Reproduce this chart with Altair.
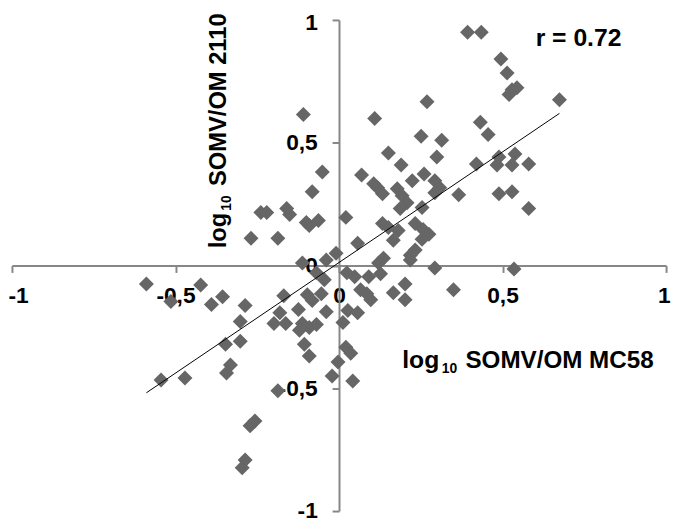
import altair as alt
import pandas as pd

# log10 SOMV/OM MC58 (x) vs log10 SOMV/OM 2110 (y)
x_mc58 = [
    -0.109, -0.051, -0.082, -0.239, -0.221, -0.160, -0.151, -0.100, -0.091, -0.063,
    -0.269, -0.187, -0.039, -0.009, -0.112,
    0.393, 0.435, 0.495, 0.514, 0.520, 0.529, 0.544, 0.674, 0.269, 0.109,
    0.432, 0.456, 0.251, 0.314, 0.151, 0.190, 0.299, 0.420, 0.489, 0.538,
    0.483, 0.529, 0.580, 0.069, 0.106, 0.118, 0.133, 0.224, 0.260, 0.178,
    0.193, 0.208, 0.187, 0.293, 0.308, 0.293, 0.366, 0.254, 0.489, 0.529,
    0.580, 0.021, 0.133, 0.151, 0.181, 0.233, 0.257, 0.275, 0.254, 0.166,
    0.057, 0.233, 0.218, 0.136, 0.121, 0.218,
    0.293, 0.535, 0.024, 0.048, 0.091, 0.127, 0.066, 0.085, 0.097, 0.166,
    0.202, 0.202, 0.350, 0.027, 0.057, 0.012, 0.021, 0.036, -0.003, 0.042,
    -0.589, -0.514, -0.423, -0.390, -0.356, -0.287, -0.302, -0.169, -0.181, -0.199,
    -0.163, -0.124, -0.097, -0.082, -0.054, -0.039, -0.112, -0.091, -0.121, -0.069,
    -0.106, -0.091, -0.347, -0.302, -0.332, -0.344, -0.544, -0.471, -0.187, -0.272,
    -0.257, -0.287, -0.296, -0.021, -0.069, -0.045,
]
y_2110 = [
    0.615, 0.381, 0.300, 0.216, 0.216, 0.232, 0.208, 0.175, 0.163, 0.183,
    0.111, 0.111, 0.022, 0.050, 0.010,
    0.950, 0.950, 0.841, 0.784, 0.696, 0.716, 0.724, 0.675, 0.667, 0.599,
    0.583, 0.534, 0.526, 0.510, 0.458, 0.409, 0.442, 0.413, 0.442, 0.454,
    0.409, 0.409, 0.413, 0.369, 0.333, 0.317, 0.292, 0.345, 0.373, 0.313,
    0.284, 0.256, 0.232, 0.345, 0.317, 0.296, 0.288, 0.236, 0.292, 0.300,
    0.232, 0.196, 0.171, 0.155, 0.143, 0.171, 0.147, 0.127, 0.107, 0.103,
    0.091, 0.063, 0.042, 0.030, 0.010, 0.022,
    -0.010, -0.014, -0.030, -0.046, -0.046, -0.034, -0.099, -0.115, -0.139, -0.111,
    -0.075, -0.139, -0.099, -0.183, -0.192, -0.232, -0.333, -0.357, -0.393, -0.470,
    -0.075, -0.147, -0.079, -0.159, -0.127, -0.163, -0.228, -0.123, -0.192, -0.236,
    -0.236, -0.179, -0.119, -0.143, -0.115, -0.188, -0.236, -0.252, -0.264, -0.240,
    -0.321, -0.369, -0.321, -0.308, -0.405, -0.438, -0.466, -0.458, -0.510, -0.653,
    -0.633, -0.792, -0.824, -0.450, -0.030, -0.058,
]
tick_values = [-1, -0.5, 0, 0.5, 1]
r_label = "r = 0.72"
x_title_parts = ["log", "10", "SOMV/OM MC58"]
y_title_parts = ["log", "10", "SOMV/OM 2110"]

df = pd.DataFrame({"x": x_mc58, "y": y_2110})

W, H = 662, 497
FONT = "Liberation Sans"
AXIS_GRAY = "#878787"
MARK_GRAY = "#666666"
label_expr = "datum.value == 0 ? '0' : replace(toString(datum.value), '.', ',')"

xscale = alt.Scale(domain=[-1, 1], nice=False, zero=False)
yscale = alt.Scale(domain=[-1, 1], nice=False, zero=False)

common_axis = dict(
    values=tick_values, labelExpr=label_expr, title=None, grid=False,
    domainColor=AXIS_GRAY, domainWidth=2, tickColor=AXIS_GRAY, tickWidth=2,
    tickSize=7, labelFont=FONT, labelFontSize=23, labelFontWeight="bold",
    labelColor="black",
)

points = alt.Chart(df).mark_point(
    shape="diamond", filled=True, size=230, color=MARK_GRAY, opacity=1
).encode(
    x=alt.X("x:Q", scale=xscale,
            axis=alt.Axis(orient="bottom", offset=-H / 2, labelPadding=12,
                          labelFlush=True, labelFlushOffset=4, **common_axis)),
    y=alt.Y("y:Q", scale=yscale,
            axis=alt.Axis(orient="left", offset=-W / 2, labelPadding=15,
                          labelFlush=False,
                          labelOffset={"condition": {"test": "datum.value == 1", "value": 3},
                                       "value": 0},
                          **common_axis)),
)

line = alt.Chart(df).transform_regression("x", "y").mark_line(
    color="black", strokeWidth=1
).encode(x="x:Q", y="y:Q")


def text_piece(t, x, y, size, angle=0):
    return alt.Chart(pd.DataFrame({"t": [t]})).mark_text(
        font=FONT, fontWeight="bold", fontSize=size, align="left",
        baseline="alphabetic", angle=angle, color="black"
    ).encode(text="t:N", x=alt.value(x), y=alt.value(y))


texts = [
    text_piece(r_label, 530, 26, 25),
    text_piece(x_title_parts[0], 395, 352, 25),
    text_piece(x_title_parts[1], 435, 357, 14),
    text_piece(x_title_parts[2], 459, 352, 24.5),
    text_piece(y_title_parts[0], 217, 231, 24, angle=270),
    text_piece(y_title_parts[1], 222, 193, 14, angle=270),
    text_piece(y_title_parts[2], 217, 168, 24, angle=270),
]

chart = alt.layer(points, line, *texts).properties(
    width=W, height=H,
    autosize=alt.AutoSizeParams(type="none"),
    padding={"left": 4, "top": 9, "right": 6, "bottom": 10},
).configure_view(stroke=None)

chart.save("out.html", embed_options={"renderer": "svg", "actions": False})
